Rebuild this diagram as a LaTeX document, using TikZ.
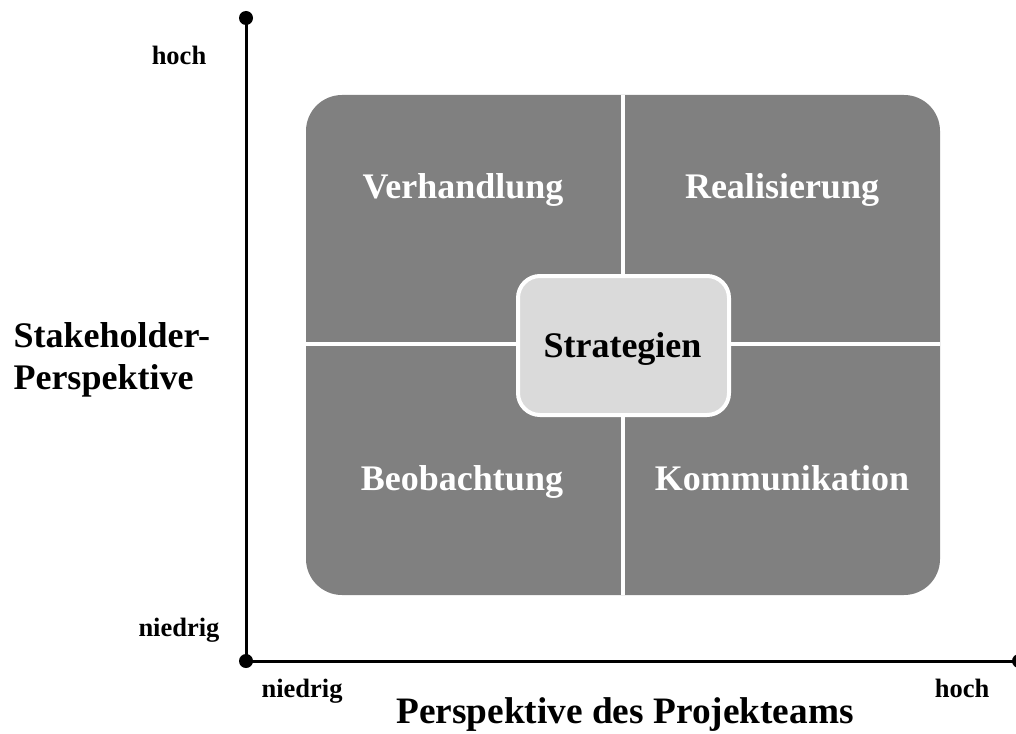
\documentclass[tikz,border=0pt]{standalone}
\usepackage{fontspec}
\setmainfont{Liberation Serif}
\definecolor{quadgray}{HTML}{808080}
\definecolor{coregray}{HTML}{DADADA}
\begin{document}
\begin{tikzpicture}[x=1pt,y=-1pt,
  axisline/.style={line width=3pt,black},
  axisdot/.style={circle,fill=black,inner sep=0pt,minimum size=14pt},
  bigtext/.style={font=\fontsize{36}{40}\selectfont\bfseries},
  smalltext/.style={font=\fontsize{26.5}{30}\selectfont\bfseries,anchor=base},
  quadlabel/.style={bigtext,text=white,anchor=base},
  divider/.style={white,line width=4pt}]
\useasboundingbox (0,0) rectangle (1016,733);
% axes
\node[axisdot] (ytop) at (246,18) {};
\node[axisdot] (origin) at (246,661) {};
\node[axisdot] (xend) at (1019,661) {};
\draw[axisline] (origin.center) -- (ytop.center);
\draw[axisline] (origin.center) -- (xend.center);
% matrix field
\fill[quadgray,rounded corners=36pt] (306,95) rectangle (940,595);
\coordinate (vtop) at (623,95);
\coordinate (vbot) at (623,595);
\coordinate (hleft) at (306,344);
\coordinate (hright) at (940,344);
\draw[divider] (vtop) -- (vbot);
\draw[divider] (hleft) -- (hright);
\node[draw=white,line width=4pt,fill=coregray,rounded corners=22pt,
      minimum width=211pt,minimum height=139pt] (core) at (623.5,345.5) {};
\node[bigtext,anchor=base] (coretext) at (622.5,357) {Strategien};
% quadrant labels
\node[quadlabel] (q1) at (463,198) {Verhandlung};
\node[quadlabel] (q2) at (782,198) {Realisierung};
\node[quadlabel] (q3) at (462,490) {Beobachtung};
\node[quadlabel] (q4) at (782,490) {Kommunikation};
% axis labels
\node[smalltext] (yhigh) at (179,65) {hoch};
\node[smalltext] (ylow) at (179,636) {niedrig};
\node[smalltext] (xlow) at (302,697) {niedrig};
\node[smalltext] (xhigh) at (962,697) {hoch};
\node[bigtext,anchor=base west] (ytitle1) at (10,347) {Stakeholder-};
\node[bigtext,anchor=base west] (ytitle2) at (10,389) {Perspektive};
\node[font=\fontsize{37.3}{42}\selectfont\bfseries,anchor=base] (xtitle) at (625,723) {Perspektive des Projekteams};
\end{tikzpicture}
\end{document}
